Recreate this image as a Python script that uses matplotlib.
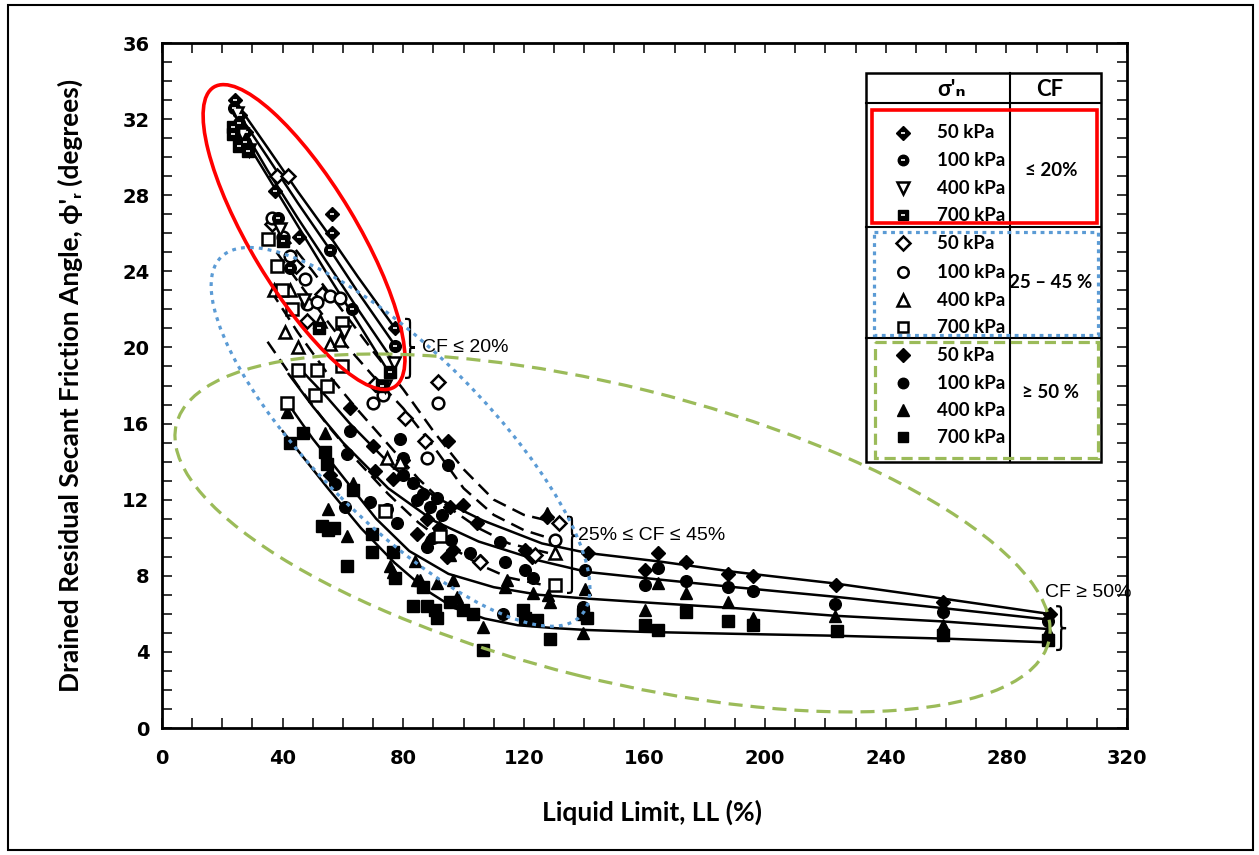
import matplotlib
matplotlib.use("Agg")
import matplotlib.pyplot as plt
from matplotlib.patches import Ellipse, Rectangle, PathPatch
from matplotlib.path import Path
from matplotlib.transforms import ScaledTranslation

# ---------------- data: CF <= 20 %
lo50_ll = [24.2, 26.0, 28.0, 37.5, 45.5, 56.4, 56.4, 77.3]
lo50_phi = [33.0, 32.2, 31.3, 28.2, 25.8, 27.0, 26.0, 21.0]
lo100_ll = [24.0, 25.5, 27.5, 38.5, 42.4, 55.7, 63.0, 77.3]
lo100_phi = [32.6, 31.8, 30.8, 26.8, 24.2, 25.1, 22.0, 20.1]
lo400_ll = [24.8, 26.5, 29.0, 39.0, 47.0, 60.5, 74.0, 76.8]
lo400_phi = [32.3, 31.2, 30.4, 26.2, 22.5, 20.8, 18.0, 19.2]
lo700_ll = [23.5, 23.5, 25.5, 28.5, 40.0, 52.0, 73.0, 75.6]
lo700_phi = [31.6, 31.2, 30.6, 30.3, 25.6, 21.0, 18.0, 18.7]

# ---------------- data: 25 % <= CF <= 45 %
mid50_ll = [38.0, 41.8, 36.5, 44.5, 48.0, 53.0, 70.6, 80.6, 87.2, 91.5, 105.4, 123.7, 131.6]
mid50_phi = [29.0, 29.0, 26.5, 24.3, 21.4, 22.8, 18.1, 16.3, 15.1, 18.2, 8.7, 9.1, 10.8]
mid100_ll = [36.5, 40.0, 42.5, 47.4, 48.0, 51.4, 55.7, 59.0, 70.0, 73.3, 87.8, 91.5, 130.3]
mid100_phi = [26.8, 25.8, 24.8, 23.6, 22.3, 22.4, 22.7, 22.6, 17.1, 17.5, 14.2, 17.1, 9.9]
mid400_ll = [37.0, 40.8, 42.4, 45.0, 52.4, 55.7, 59.0, 74.6, 79.0, 130.3]
mid400_phi = [23.0, 20.8, 23.0, 20.0, 21.4, 20.2, 20.4, 14.2, 14.0, 9.2]
mid700_ll = [35.1, 38.1, 39.8, 43.0, 45.0, 51.4, 50.7, 54.7, 59.7, 59.7, 41.4, 74.0, 92.2, 130.3]
mid700_phi = [25.7, 24.3, 23.0, 22.0, 18.8, 18.8, 17.5, 18.0, 21.3, 19.0, 17.1, 11.4, 10.1, 7.5]

# ---------------- data: CF >= 50 %
hi50_ll = [62.3, 70.0, 70.6, 55.7, 76.6, 80.0, 94.8, 95.5, 99.8, 104.4, 84.5, 88.0, 92.0,
           94.5, 96.5, 105.4, 120.4, 122.6, 127.6, 141.3, 160.2, 164.5, 173.7, 187.7,
           196.0, 223.5, 259.0, 294.4]
hi50_phi = [16.8, 14.8, 13.5, 13.3, 13.1, 14.1, 15.1, 11.6, 11.7, 10.8, 10.2, 11.0, 10.5,
            9.0, 9.35, 8.8, 9.35, 9.0, 11.1, 9.2, 8.3, 9.2, 8.7, 8.1,
            8.0, 7.5, 6.6, 6.0]
hi100_ll = [62.3, 61.3, 78.9, 69.0, 60.7, 57.4, 80.0, 80.0, 83.2, 86.5, 88.9, 77.9, 87.8,
            94.8, 96.0, 102.0, 112.0, 113.7, 113.0, 120.4, 123.0, 84.5, 91.2, 74.6, 90.0,
            93.0, 140.3, 139.6, 164.5, 160.2, 173.7, 187.7, 196.0, 223.2, 259.0, 293.8]
hi100_phi = [15.6, 14.4, 15.2, 11.9, 11.6, 12.8, 14.2, 13.3, 12.9, 12.3, 11.6, 10.8, 9.5,
             13.8, 9.9, 9.2, 9.8, 8.7, 6.0, 8.3, 7.9, 12.0, 12.1, 11.5, 10.0,
             11.2, 8.3, 6.35, 8.4, 7.5, 7.7, 7.4, 7.2, 6.5, 6.1, 5.6]
hi400_ll = [41.5, 54.0, 55.0, 61.3, 63.3, 75.6, 76.6, 83.9, 84.5, 91.2, 85.5, 88.0, 95.5,
            96.5, 97.8, 106.5, 114.4, 113.7, 123.0, 127.6, 128.0, 128.6, 140.3, 139.6,
            164.5, 160.2, 173.7, 187.7, 196.0, 223.2, 259.0, 293.8]
hi400_phi = [16.6, 15.5, 11.5, 10.1, 12.9, 8.5, 8.2, 8.8, 7.8, 7.6, 7.8, 9.8, 9.1,
             7.8, 6.9, 5.3, 7.8, 7.4, 7.1, 11.3, 7.0, 6.6, 7.3, 5.0,
             7.6, 6.2, 7.1, 6.6, 5.8, 5.9, 5.4, 5.1]
hi700_ll = [42.4, 46.8, 54.0, 54.7, 63.3, 53.0, 55.0, 57.0, 61.3, 69.6, 69.6, 76.6, 77.3,
            86.5, 83.2, 87.8, 91.2, 90.5, 95.5, 99.8, 103.0, 106.5, 119.7, 120.4, 124.3,
            128.6, 139.6, 140.9, 160.2, 164.5, 173.7, 187.7, 196.0, 223.8, 259.0, 293.8]
hi700_phi = [15.0, 15.5, 14.5, 13.9, 12.5, 10.6, 10.4, 10.5, 8.5, 10.2, 9.25, 9.25, 7.9,
             7.4, 6.4, 6.4, 5.8, 6.2, 6.6, 6.2, 6.0, 4.1, 6.2, 5.8, 5.7,
             4.7, 6.0, 5.8, 5.4, 5.15, 6.1, 5.6, 5.4, 5.1, 4.9, 4.6]

# ---------------- trend curves
lo_fit_ll = [[24.0, 35.0, 45.0, 55.0, 65.0, 77.3],
             [24.0, 35.0, 45.0, 55.0, 65.0, 77.3],
             [25.0, 35.0, 45.0, 55.0, 65.0, 77.0],
             [26.5, 35.0, 45.0, 55.0, 65.0, 75.6]]
lo_fit_phi = [[33.0, 30.5, 28.2, 26.0, 23.7, 21.0],
              [32.6, 30.0, 27.6, 25.3, 22.9, 20.1],
              [32.0, 29.3, 26.8, 24.4, 22.0, 19.2],
              [31.2, 29.0, 26.4, 23.8, 21.3, 18.6]]
mid_fit_ll = [[40.0, 50.0, 60.0, 70.0, 80.0, 90.0, 100.0, 110.0, 120.0, 128.0],
              [38.0, 50.0, 60.0, 70.0, 80.0, 90.0, 100.0, 110.0, 120.0, 128.0],
              [36.0, 45.0, 55.0, 65.0, 75.0, 85.0, 95.0, 105.0, 115.0, 128.0],
              [35.0, 45.0, 55.0, 65.0, 75.0, 85.0, 95.0, 105.0, 115.0, 127.0]]
mid_fit_phi = [[26.0, 24.0, 21.9, 19.8, 17.8, 15.6, 13.6, 12.0, 11.2, 10.9],
               [25.0, 22.4, 20.3, 18.5, 16.8, 14.8, 12.6, 11.2, 10.4, 10.0],
               [23.0, 20.8, 18.6, 16.7, 14.9, 13.1, 11.6, 10.5, 9.7, 9.2],
               [20.3, 18.0, 15.9, 14.0, 12.3, 10.8, 9.6, 8.6, 7.9, 7.5]]
hi_fit_ll = [[45.0, 54.6, 62.3, 76.6, 91.0, 106.5, 126.0, 141.0, 165.0, 190.0, 223.0, 259.0, 294.0],
             [42.0, 50.0, 60.0, 75.0, 90.0, 105.0, 125.0, 141.0, 165.0, 190.0, 223.0, 259.0, 294.0],
             [42.0, 50.0, 60.0, 71.0, 82.0, 95.0, 110.0, 125.0, 141.0, 165.0, 190.0, 223.0, 259.0, 294.0],
             [40.0, 45.0, 55.0, 66.0, 77.0, 88.0, 97.0, 107.0, 118.0, 130.0, 141.0, 160.0, 190.0, 223.0, 259.0, 294.0]]
hi_fit_phi = [[19.0, 17.4, 16.0, 13.7, 12.1, 10.9, 9.7, 9.2, 8.75, 8.2, 7.6, 6.8, 6.0],
              [18.6, 16.9, 15.0, 12.6, 10.9, 9.8, 8.8, 8.2, 7.8, 7.4, 6.9, 6.3, 5.7],
              [17.0, 15.2, 13.2, 11.0, 9.3, 8.1, 7.4, 7.0, 6.8, 6.55, 6.3, 5.9, 5.6, 5.2],
              [15.6, 14.6, 12.6, 10.5, 8.7, 7.2, 6.3, 5.75, 5.4, 5.25, 5.15, 5.05, 4.95, 4.85, 4.7, 4.5]]

stress_labels = ["50 kPa", "100 kPa", "400 kPa", "700 kPa"]
cf_labels = ["≤ 20%", "25 – 45 %", "≥ 50 %"]
x_ticks = [0, 40, 80, 120, 160, 200, 240, 280, 320]
y_ticks = [0, 4, 8, 12, 16, 20, 24, 28, 32, 36]

RED = "#ff0000"
BLUE = "#5b9bd5"
GREEN = "#9bbb59"
SANS = ["Lato", "DejaVu Sans"]

W, H = 1259, 855
fig = plt.figure(figsize=(W / 100, H / 100), dpi=100)
ax = fig.add_axes([162 / W, 127 / H, 965 / W, 685 / H])
ax.set_xlim(0, 320)
ax.set_ylim(0, 36)
ax.set_xticks(x_ticks)
ax.set_xticks(range(0, 321, 10), minor=True)
ax.set_yticks(y_ticks)
ax.set_yticks(range(0, 37), minor=True)
ax.set_xticklabels([str(t) for t in x_ticks], fontsize=14, fontweight="bold")
ax.set_yticklabels([str(t) for t in y_ticks], fontsize=14, fontweight="bold")
ax.tick_params(which="both", direction="in", top=True, right=True, length=7, width=1.1)
ax.tick_params(axis="x", pad=15)
ax.tick_params(axis="y", pad=9)
for s in ax.spines.values():
    s.set_linewidth(2.0)

markers = ["D", "o", "^", "s"]
sizes = {"D": 7.4, "o": 8.4, "^": 9.2, "v": 9.2, "s": 8.2}


def draw_points(a, ll, phi, marker, kind, scale=1.0):
    ms = sizes[marker] * scale
    if kind == "hollow":
        a.plot(ll, phi, ls="none", marker=marker, ms=ms, mfc="white", mec="black",
               mew=1.8, zorder=4)
    else:
        a.plot(ll, phi, ls="none", marker=marker, ms=ms, mfc="black", mec="black",
               mew=1.0, zorder=4)
        if kind == "half":
            # thin white bar marks the partly filled symbols
            a.plot(ll, phi, ls="none", marker="_", ms=ms * 0.35, mec="white",
                   mew=1.2, zorder=4.1)


# trend curves
for ll, phi in zip(hi_fit_ll, hi_fit_phi):
    ax.plot(ll, phi, color="black", lw=1.8, zorder=3)
for ll, phi in zip(lo_fit_ll, lo_fit_phi):
    ax.plot(ll, phi, color="black", lw=1.8, zorder=3)
for ll, phi in zip(mid_fit_ll, mid_fit_phi):
    ax.plot(ll, phi, color="black", lw=1.8, ls=(0, (5.5, 3)), zorder=3)

# points
hi_sets = [(hi50_ll, hi50_phi), (hi100_ll, hi100_phi), (hi400_ll, hi400_phi), (hi700_ll, hi700_phi)]
mid_sets = [(mid50_ll, mid50_phi), (mid100_ll, mid100_phi), (mid400_ll, mid400_phi), (mid700_ll, mid700_phi)]
lo_sets = [(lo50_ll, lo50_phi), (lo100_ll, lo100_phi), (lo400_ll, lo400_phi), (lo700_ll, lo700_phi)]
lo_kinds = ["half", "half", "hollow", "half"]
lo_marks = ["D", "o", "v", "s"]
for (ll, phi), m in zip(hi_sets, markers):
    draw_points(ax, ll, phi, m, "filled")
for (ll, phi), m in zip(mid_sets, markers):
    draw_points(ax, ll, phi, m, "hollow")
for (ll, phi), m, k in zip(lo_sets, lo_marks, lo_kinds):
    draw_points(ax, ll, phi, m, k)


# grouping ellipses, sized in pixels around a data-space centre
def region(ll, phi, w_px, h_px, angle, **kw):
    tr = fig.dpi_scale_trans + ScaledTranslation(ll, phi, ax.transData)
    ax.add_patch(Ellipse((0, 0), w_px / 100, h_px / 100, angle=angle, transform=tr,
                         fill=False, clip_on=False, zorder=6, **kw))


region(47.1, 25.8, 350, 106, -59, ec=RED, lw=2.6)
region(79.1, 15.3, 508, 170, -45, ec=BLUE, lw=2.3, ls=(0, (1.2, 1.6)))
region(149.4, 10.25, 899, 293, -14, ec=GREEN, lw=2.3, ls=(0, (4.4, 2.5)))


def curly_brace(x, y_top, y_bot, y_tip, w=3.3, h=0.3):
    xm = x + w / 2
    verts = [(x, y_top), (xm, y_top), (xm, y_top), (xm, y_top - h),
             (xm, y_tip + h),
             (xm, y_tip), (xm, y_tip), (x + w, y_tip),
             (xm, y_tip), (xm, y_tip), (xm, y_tip - h),
             (xm, y_bot + h),
             (xm, y_bot), (xm, y_bot), (x, y_bot)]
    codes = [Path.MOVETO] + [Path.CURVE4] * 3 + [Path.LINETO] + [Path.CURVE4] * 6 \
        + [Path.LINETO] + [Path.CURVE4] * 3
    ax.add_patch(PathPatch(Path(verts, codes), fill=False, lw=1.6, ec="black",
                           zorder=5, clip_on=False))


curly_brace(80.6, 21.5, 18.4, 20.0)
curly_brace(134.3, 11.1, 7.1, 10.1)
curly_brace(296.5, 6.4, 4.1, 5.25)

note = dict(fontsize=14, family=["Liberation Sans", "DejaVu Sans"], va="center", zorder=7)
ax.text(86.2, 20.0, "CF ≤ 20%", **note)
ax.text(137.9, 10.1, "25% ≤ CF ≤ 45%", **note)
ax.text(292.8, 7.1, "CF ≥ 50%", **note)

# axis titles
fig.text(652 / W, 1 - 812 / H, "Liquid Limit, LL (%)", ha="center", va="center",
         fontsize=19, fontweight="bold", family=SANS)
fig.text(70 / W, 1 - 385 / H, "Drained Residual Secant Friction Angle, ϕ'ᵣ (degrees)",
         ha="center", va="center", rotation=90, fontsize=19, fontweight="bold", family=SANS)

# key table, laid out in figure pixels
lg = fig.add_axes([0, 0, 1, 1], zorder=10)
lg.set_xlim(0, W)
lg.set_ylim(H, 0)
lg.axis("off")
lg.patch.set_alpha(0)

lg.add_patch(Rectangle((866, 73), 235, 389, fc="white", ec="black", lw=1.8))
for y in [103, 227, 338]:
    lg.plot([866, 1101], [y, y], color="black", lw=1.5)
lg.plot([1010, 1010], [73, 462], color="black", lw=1.5)

row_y = [[133, 160, 188, 215], [243, 272, 300, 327], [355, 383, 410, 437]]
cf_y = [170, 282, 392]
kinds = [lo_kinds, ["hollow"] * 4, ["filled"] * 4]
marks = [lo_marks, markers, markers]
for g in range(3):
    for i in range(4):
        draw_points(lg, [903], [row_y[g][i]], marks[g][i], kinds[g][i], scale=0.9)
        lg.text(937, row_y[g][i], stress_labels[i], fontsize=13.5, fontweight="bold",
                family=SANS, va="center", ha="left")
    lg.text(1051, cf_y[g], cf_labels[g], fontsize=13.5, fontweight="bold", family=SANS,
            va="center", ha="center")
lg.text(952, 89, "σ'ₙ", fontsize=16, fontweight="bold", family=SANS, va="center", ha="center")
lg.text(1050, 89, "CF", fontsize=16, fontweight="bold", family=SANS, va="center", ha="center")

lg.add_patch(Rectangle((872, 110), 225, 113, fill=False, ec=RED, lw=2.6, zorder=6))
lg.add_patch(Rectangle((874, 232), 224, 103, fill=False, ec=BLUE, lw=2.3,
                       ls=(0, (1.2, 1.4)), zorder=6))
lg.add_patch(Rectangle((875, 342), 223, 116, fill=False, ec=GREEN, lw=2.3,
                       ls=(0, (3.5, 1.8)), zorder=6))

# outer frame of the figure
lg.add_patch(Rectangle((8, 5), 1245, 845, fill=False, ec="black", lw=1.5))

fig.savefig("out.png", dpi=100)
